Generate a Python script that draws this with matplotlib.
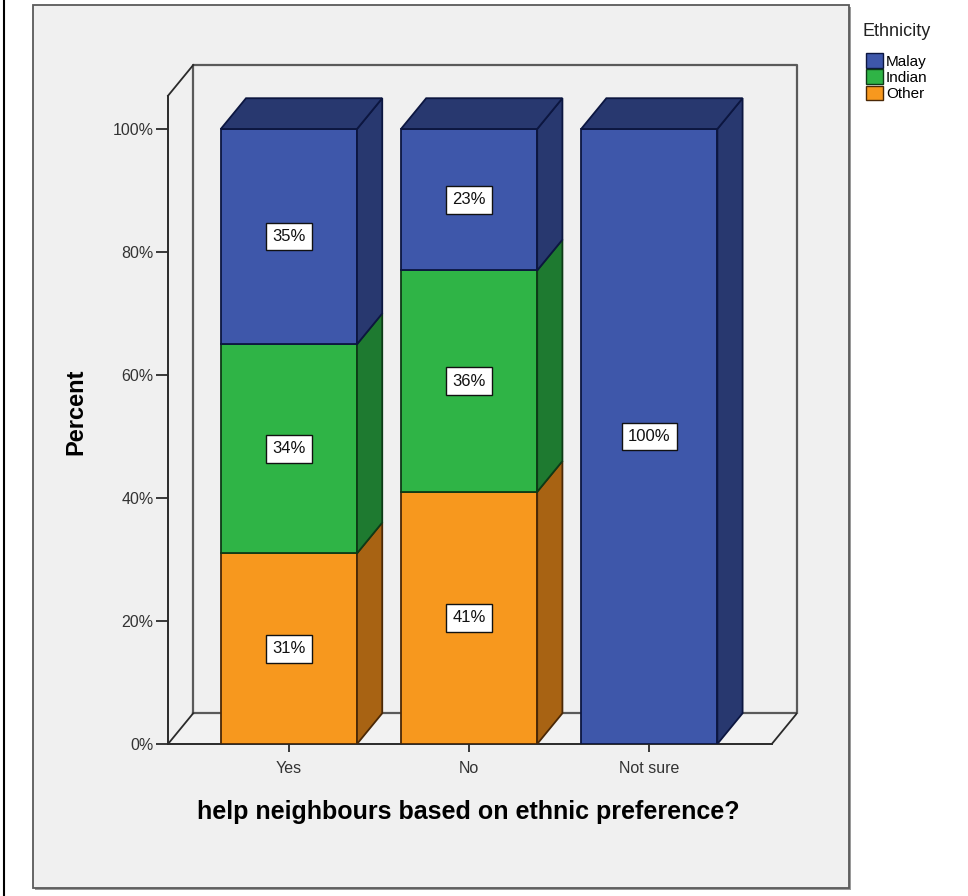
import numpy as np
import matplotlib.pyplot as plt
from matplotlib.patches import Rectangle, Polygon, Patch
from matplotlib.lines import Line2D

plt.rcParams['font.family'] = ['Liberation Sans', 'DejaVu Sans']

# Percent of respondents in each answer group, by ethnicity
categories = ['Yes', 'No', 'Not sure']
ethnic_groups = ['Malay', 'Indian', 'Other']
malay = [35, 23, 100]
indian = [34, 36, 0]
other = [31, 41, 0]
y_ticks = [0, 20, 40, 60, 80, 100]

# front / side colours for each group
front_col = {'Malay': '#3e57aa', 'Indian': '#2fb446', 'Other': '#f7981e'}
side_col = {'Malay': '#28386f', 'Indian': '#1e7a30', 'Other': '#a86313'}
edge_col = {'Malay': '#0c1640', 'Indian': '#0d3a16', 'Other': '#4a2806'}

W, H = 968, 896
fig = plt.figure(figsize=(W / 100, H / 100), dpi=100)
fig.patch.set_facecolor('white')


def fx(px):
    return px / W


def fy(py):
    return 1 - py / H


# outer black rule on the left and the grey chart panel
fig.add_artist(Line2D([fx(3.5), fx(3.5)], [0, 1], color='black', lw=1.5))
fig.add_artist(Rectangle((fx(35), fy(890)), fx(849) - fx(33), fy(7) - fy(890),
                         facecolor='#9a9a9a', edgecolor='none', zorder=0))
fig.add_artist(Rectangle((fx(33), fy(888)), fx(849) - fx(33), fy(5) - fy(888),
                         facecolor='#f0f0f0', edgecolor='#5a5a5a', lw=1.3, zorder=0))

# 3D geometry (data units)
bar_w = 0.756
dx, dy = 0.14, 5.0
x0, x1 = -0.671, 2.680
ytop = 105.4

ax = fig.add_axes([fx(168), fy(744), fx(797) - fx(168), fy(65) - fy(744)])
ax.set_xlim(x0, x1 + dx)
ax.set_ylim(0, ytop + dy)
ax.patch.set_alpha(0)

# walls and floor
frame = '#2a2a2a'
wall = '#5a5a5a'
ax.fill([x0, x1, x1 + dx, x0 + dx], [0, 0, dy, dy], color='#f2f2f2', zorder=0)
ax.plot([x0 + dx, x0 + dx, x1 + dx, x1 + dx], [dy, ytop + dy, ytop + dy, dy],
        color=wall, lw=1.6, zorder=1, clip_on=False)
ax.plot([x0 + dx, x1 + dx], [dy, dy], color=wall, lw=1.6, zorder=1)
ax.plot([x0, x0 + dx], [0, dy], color=frame, lw=1.3, zorder=1)
ax.plot([x1, x1 + dx], [0, dy], color=frame, lw=1.3, zorder=1)
ax.plot([x0, x0 + dx], [ytop, ytop + dy], color=frame, lw=1.3, zorder=1, clip_on=False)

series = {'Other': other, 'Indian': indian, 'Malay': malay}
for i, cat in enumerate(categories):
    left, right = i - bar_w / 2, i + bar_w / 2
    bottom = 0
    segs = [(g, series[g][i]) for g in ['Other', 'Indian', 'Malay'] if series[g][i] > 0]
    for k, (g, val) in enumerate(segs):
        top = bottom + val
        ax.add_patch(Rectangle((left, bottom), bar_w, val, facecolor=front_col[g],
                               edgecolor=edge_col[g], lw=1.3, zorder=3))
        ax.add_patch(Polygon([(right, bottom), (right + dx, bottom + dy),
                              (right + dx, top + dy), (right, top)],
                             facecolor=side_col[g], edgecolor=edge_col[g], lw=1.3, zorder=3))
        if k == len(segs) - 1:
            ax.add_patch(Polygon([(left, top), (left + dx, top + dy),
                                  (right + dx, top + dy), (right, top)],
                                 facecolor=side_col[g], edgecolor=edge_col[g], lw=1.3,
                                 zorder=3, clip_on=False))
        ax.text(i, bottom + val / 2, f'{val}%', ha='center', va='center', fontsize=12,
                color='#111111', zorder=5,
                bbox=dict(boxstyle='square,pad=0.38', facecolor='white',
                          edgecolor='#111111', lw=1.0))
        bottom = top

# axes and ticks
for side in ['top', 'right']:
    ax.spines[side].set_visible(False)
ax.spines['left'].set_bounds(0, ytop)
ax.spines['bottom'].set_bounds(x0, x1)
for side in ['left', 'bottom']:
    ax.spines[side].set_color(frame)
    ax.spines[side].set_linewidth(1.4)
    ax.spines[side].set_zorder(2)

ax.set_yticks(y_ticks)
ax.set_yticklabels([f'{t}%' for t in y_ticks])
ax.set_xticks(range(len(categories)))
ax.set_xticklabels(categories)
ax.tick_params(axis='y', length=8.5, width=1.3, color=frame, pad=2, labelsize=11.5,
               labelcolor='#333333')
ax.tick_params(axis='x', length=6, width=1.3, color=frame, pad=6, labelsize=11.5,
               labelcolor='#333333')

fig.text(fx(468), fy(812), 'help neighbours based on ethnic preference?',
         ha='center', va='center', fontsize=18, fontweight='bold')
fig.text(fx(76), fy(412), 'Percent', ha='center', va='center', rotation=90,
         fontsize=17, fontweight='bold')

# legend
fig.text(fx(862), fy(32), 'Ethnicity', ha='left', va='center', fontsize=13, color='#222222')
handles = [Patch(facecolor=front_col[g], edgecolor=edge_col[g], lw=1.0) for g in ethnic_groups]
fig.legend(handles, ethnic_groups, loc='upper left', bbox_to_anchor=(fx(866), fy(53)),
           frameon=False, fontsize=11, handlelength=1.1, handleheight=1.1,
           handletextpad=0.2, labelspacing=0.05, borderpad=0, borderaxespad=0)

fig.savefig('out.png', dpi=100)
